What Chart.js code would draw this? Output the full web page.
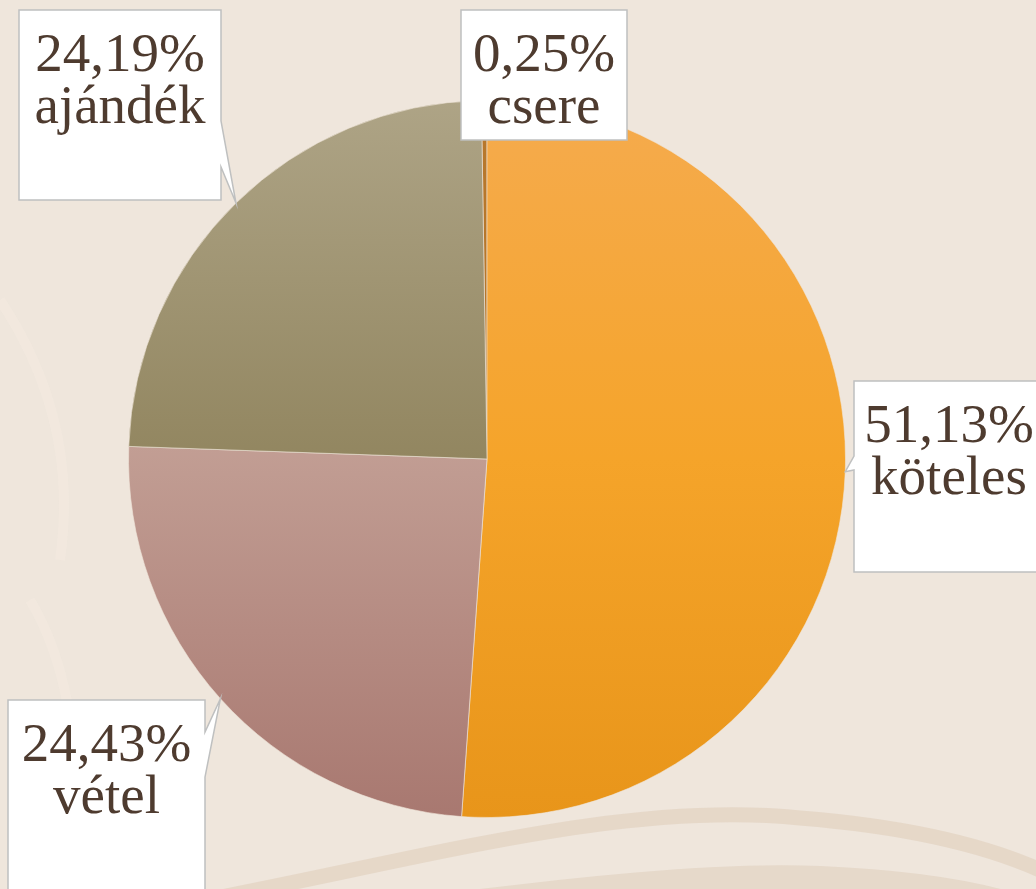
<!DOCTYPE html>
<html lang="hu">
<head>
<meta charset="utf-8">
<title>Megoszlás</title>
<script src="https://cdn.jsdelivr.net/npm/chart.js@4/dist/chart.umd.min.js"></script>
<style>
  html, body { margin: 0; padding: 0; background: #efe6dc; overflow: hidden; }
  #wrap { position: relative; width: 1036px; height: 889px; }
</style>
</head>
<body>
<div id="wrap"><canvas id="pieChart"></canvas></div>
<script>
// Data
const categories = ['csere', 'köteles', 'vétel', 'ajándék'];
const shares = [0.25, 51.13, 24.43, 24.19];

// Vertical gradient stops for each slice (offset, colour)
const sliceStops = [
    [[0, '#b8782c'], [1, '#b07026']],
    [[0, '#f5ab4e'], [0.5, '#f5a42a'], [1, '#e8951a']],
    [[0, '#c29e94'], [0.48, '#c29e94'], [1, '#a87870']],
    [[0, '#aea486'], [0.5, '#928660'], [1, '#928660']]
];

// Label boxes and where the callout leaves the box
const boxes = [
    { x: 461, y: 10, w: 166, h: 130, side: null },
    { x: 854, y: 381, w: 190, h: 191, side: 'left', b1: 456, b2: 470 },
    { x: 8, y: 700, w: 197, h: 200, side: 'right', b1: 732, b2: 777 },
    { x: 19, y: 10, w: 202, h: 190, side: 'right', b1: 121, b2: 167 }
];

const FONT = '55px "Liberation Serif", "DejaVu Serif", serif';
const TEXT_COLOR = '#4e3b2f';

const backdrop = {
    id: 'backdrop',
    beforeDraw(chart) {
        const ctx = chart.ctx;
        ctx.save();
        ctx.fillStyle = '#efe6dc';
        ctx.fillRect(0, 0, chart.width, chart.height);
        // faint lighter streaks
        ctx.strokeStyle = 'rgba(248,240,230,0.3)';
        ctx.lineWidth = 10;
        ctx.beginPath();
        ctx.moveTo(0, 300);
        ctx.quadraticCurveTo(80, 420, 60, 560);
        ctx.moveTo(30, 600);
        ctx.quadraticCurveTo(90, 700, 70, 880);
        ctx.stroke();
        // wave bands at the bottom
        ctx.strokeStyle = 'rgba(222,204,184,0.55)';
        ctx.lineWidth = 15;
        ctx.beginPath();
        ctx.moveTo(180, 905);
        ctx.bezierCurveTo(420, 860, 620, 800, 800, 818);
        ctx.quadraticCurveTo(950, 830, 1040, 870);
        ctx.stroke();
        ctx.fillStyle = 'rgba(222,204,184,0.5)';
        ctx.beginPath();
        ctx.moveTo(480, 889);
        ctx.bezierCurveTo(600, 875, 720, 862, 820, 866);
        ctx.quadraticCurveTo(960, 872, 1036, 900);
        ctx.lineTo(1036, 889);
        ctx.closePath();
        ctx.fill();
        ctx.restore();
    }
};

function boxPath(ctx, b, tip) {
    const x0 = b.x, y0 = b.y, x1 = b.x + b.w, y1 = b.y + b.h;
    ctx.beginPath();
    ctx.moveTo(x0, y0);
    ctx.lineTo(x1, y0);
    if (b.side === 'right') {
        ctx.lineTo(x1, b.b1);
        ctx.lineTo(tip.x, tip.y);
        ctx.lineTo(x1, b.b2);
    }
    ctx.lineTo(x1, y1);
    ctx.lineTo(x0, y1);
    if (b.side === 'left') {
        ctx.lineTo(x0, b.b2);
        ctx.lineTo(tip.x, tip.y);
        ctx.lineTo(x0, b.b1);
    }
    ctx.closePath();
}

const calloutLabels = {
    id: 'calloutLabels',
    afterDatasetsDraw(chart) {
        const ctx = chart.ctx;
        const arcs = chart.getDatasetMeta(0).data;
        ctx.save();
        arcs.forEach((arc, i) => {
            const p = arc.getProps(['x', 'y', 'startAngle', 'endAngle', 'outerRadius'], true);
            const mid = (p.startAngle + p.endAngle) / 2;
            const tip = {
                x: p.x + Math.cos(mid) * p.outerRadius,
                y: p.y + Math.sin(mid) * p.outerRadius
            };
            const b = boxes[i];
            boxPath(ctx, b, tip);
            ctx.fillStyle = '#ffffff';
            ctx.fill();
            ctx.strokeStyle = '#bfc0c0';
            ctx.lineWidth = 1.5;
            ctx.stroke();

            ctx.fillStyle = TEXT_COLOR;
            ctx.font = FONT;
            ctx.textAlign = 'center';
            ctx.textBaseline = 'alphabetic';
            const cx = b.x + b.w / 2;
            const pct = shares[i].toFixed(2).replace('.', ',') + '%';
            ctx.fillText(pct, cx, b.y + 61);
            ctx.fillText(categories[i], cx, b.y + 113);
        });
        ctx.restore();
    }
};

function sliceFill(context) {
    const chart = context.chart;
    const area = chart.chartArea;
    const stops = sliceStops[context.dataIndex];
    if (!area) return stops[0][1];
    const g = chart.ctx.createLinearGradient(0, area.top, 0, area.bottom);
    stops.forEach(([o, c]) => g.addColorStop(o, c));
    return g;
}

new Chart(document.getElementById('pieChart'), {
    type: 'pie',
    data: {
        labels: categories,
        datasets: [{
            data: shares,
            backgroundColor: sliceFill,
            borderColor: 'rgba(240,230,218,0.6)',
            borderWidth: 1
        }]
    },
    options: {
        responsive: true,
        maintainAspectRatio: false,
        animation: false,
        // the first slice sits just left of twelve o'clock
        rotation: -shares[0] * 3.6,
        layout: { padding: { left: 128, right: 190, top: 100, bottom: 71 } },
        plugins: {
            legend: { display: false },
            tooltip: { enabled: false }
        }
    },
    plugins: [backdrop, calloutLabels]
});
</script>
</body>
</html>
